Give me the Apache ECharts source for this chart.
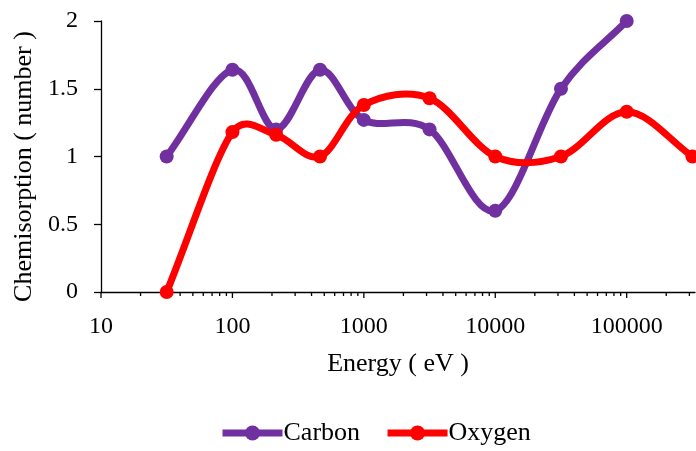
<!DOCTYPE html>
<html>
<head>
<meta charset="utf-8">
<script src="https://cdn.jsdelivr.net/npm/echarts@6/dist/echarts.min.js"></script>
<style>
  html, body { margin: 0; padding: 0; background: #fff; }
  #chart { width: 696px; height: 451px; }
</style>
</head>
<body>
<div id="chart"></div>
<script>
// Energy (eV) of each measurement, log-spaced
const energies = [31.6, 100, 215, 464, 1000, 3162, 10000, 31623, 100000, 316228];
// Chemisorption counts per element
const carbon = [1, 1.64, 1.2, 1.64, 1.27, 1.2, 0.6, 1.5, 2];
const oxygen = [0, 1.18, 1.16, 1.0, 1.38, 1.43, 1.0, 1.0, 1.33, 1.0];
// Tick positions on the logarithmic energy axis
const majorTicks = [10, 100, 1000, 10000, 100000];
const minorTicks = [];
majorTicks.forEach(function (d) {
  for (let k = 2; k <= 9; k++) {
    if (d * k <= 300000) minorTicks.push(d * k);
  }
});

const FONT = "'Liberation Serif', 'Times New Roman', serif";
const PURPLE = '#7030A0';
const RED = '#FF0000';
const LINE_W = 7;

function pairs(values) {
  return values.map(function (v, i) { return [energies[i], v]; });
}

// Tick marks drawn below the x axis line (minor ones shorter)
function tickSeries(values, len) {
  return {
    type: 'custom',
    silent: true,
    clip: false,
    z: 1,
    data: values.map(function (v) { return [v, 0]; }),
    renderItem: function (params, api) {
      const p = api.coord([api.value(0), 0]);
      return {
        type: 'line',
        shape: { x1: p[0], y1: p[1], x2: p[0], y2: p[1] + len },
        style: { stroke: '#000', lineWidth: 1.3 }
      };
    }
  };
}

function dist(a, b) {
  return Math.sqrt((a[0] - b[0]) * (a[0] - b[0]) + (a[1] - b[1]) * (a[1] - b[1]));
}

// Spreadsheet-style smoothed line: one cubic Bezier per segment, control
// arms 1/6 of the neighbour chord, capped at half the segment length.
function curveSeries(values, color, z) {
  const pts = pairs(values);
  const n = pts.length;
  return {
    type: 'custom',
    silent: true,
    clip: false,
    z: z,
    data: pts,
    renderItem: function (params, api) {
      const i = params.dataIndex;
      if (i >= n - 1) return null;
      const first = i === 0;
      const last = i === n - 2;
      const p1 = api.coord(pts[i]);
      const p2 = api.coord(pts[i + 1]);
      const p0 = first ? p1 : api.coord(pts[i - 1]);
      const p3 = last ? p2 : api.coord(pts[i + 2]);
      const d02 = dist(p0, p2), d12 = dist(p1, p2), d13 = dist(p1, p3);
      let f0 = first ? 1 / 3 : 1 / 6;
      let f1 = last ? 1 / 3 : 1 / 6;
      if (!(d02 * f0 < d12 / 2 && d13 * f1 < d12 / 2)) {
        if (d02 * f0 >= d12 / 2) f0 = d12 / d02 / 2;
        if (d13 * f1 >= d12 / 2) f1 = d12 / d13 / 2;
      }
      return {
        type: 'bezierCurve',
        shape: {
          x1: p1[0], y1: p1[1],
          x2: p2[0], y2: p2[1],
          cpx1: p1[0] + f0 * (p2[0] - p0[0]),
          cpy1: p1[1] + f0 * (p2[1] - p0[1]),
          cpx2: p2[0] - f1 * (p3[0] - p1[0]),
          cpy2: p2[1] - f1 * (p3[1] - p1[1])
        },
        style: { stroke: color, lineWidth: LINE_W, fill: 'none', lineCap: 'round', lineJoin: 'round' }
      };
    }
  };
}

function markerSeries(name, values, color, z) {
  return {
    name: name,
    type: 'line',
    data: pairs(values),
    clip: false,
    symbol: 'circle',
    symbolSize: 14,
    z: z,
    itemStyle: { color: color },
    lineStyle: { color: color, width: LINE_W, opacity: 0 }
  };
}

const chart = echarts.init(document.getElementById('chart'), null, { renderer: 'canvas' });
chart.setOption({
  animation: false,
  backgroundColor: '#fff',
  textStyle: { fontFamily: FONT, color: '#000' },
  grid: { left: 101, right: 1, top: 21, bottom: 159, outerBoundsMode: 'none', containLabel: false },
  legend: {
    data: ['Carbon', 'Oxygen'],
    top: 415,
    left: 214,
    itemWidth: 60,
    itemHeight: 19,
    itemGap: 24,
    lineStyle: { width: LINE_W, opacity: 1 },
    textStyle: { fontFamily: FONT, fontSize: 26, color: '#000', padding: [0, 0, 0, -4] }
  },
  xAxis: {
    type: 'log',
    logBase: 10,
    min: 10,
    max: 331000,
    name: 'Energy ( eV )',
    nameLocation: 'middle',
    nameGap: 59,
    nameTextStyle: { fontFamily: FONT, fontSize: 26, color: '#000' },
    axisLine: { show: true, onZero: false, lineStyle: { color: '#000', width: 1.3 } },
    axisTick: { show: false },
    splitLine: { show: false },
    minorTick: { show: false },
    axisLabel: {
      fontFamily: FONT,
      fontSize: 24,
      color: '#000',
      margin: 23,
      formatter: function (v) {
        const e = Math.log10(v);
        return Math.abs(e - Math.round(e)) < 1e-6 && v < 200000 ? String(Math.round(v)) : '';
      }
    }
  },
  yAxis: {
    type: 'value',
    min: 0,
    max: 2,
    interval: 0.5,
    name: 'Chemisorption ( number )',
    nameLocation: 'middle',
    nameGap: 62,
    nameTextStyle: { fontFamily: FONT, fontSize: 26, color: '#000', padding: [0, 0, 0, -20] },
    axisLine: { show: true, lineStyle: { color: '#000', width: 1.3 } },
    axisTick: { show: true, length: 7, lineStyle: { color: '#000', width: 1.3 } },
    splitLine: { show: false },
    axisLabel: { fontFamily: FONT, fontSize: 24, color: '#000', margin: 23 }
  },
  series: [
    tickSeries(majorTicks, 6),
    tickSeries(minorTicks, 4),
    curveSeries(carbon, PURPLE, 2),
    markerSeries('Carbon', carbon, PURPLE, 3),
    curveSeries(oxygen, RED, 4),
    markerSeries('Oxygen', oxygen, RED, 5)
  ]
});
</script>
</body>
</html>
